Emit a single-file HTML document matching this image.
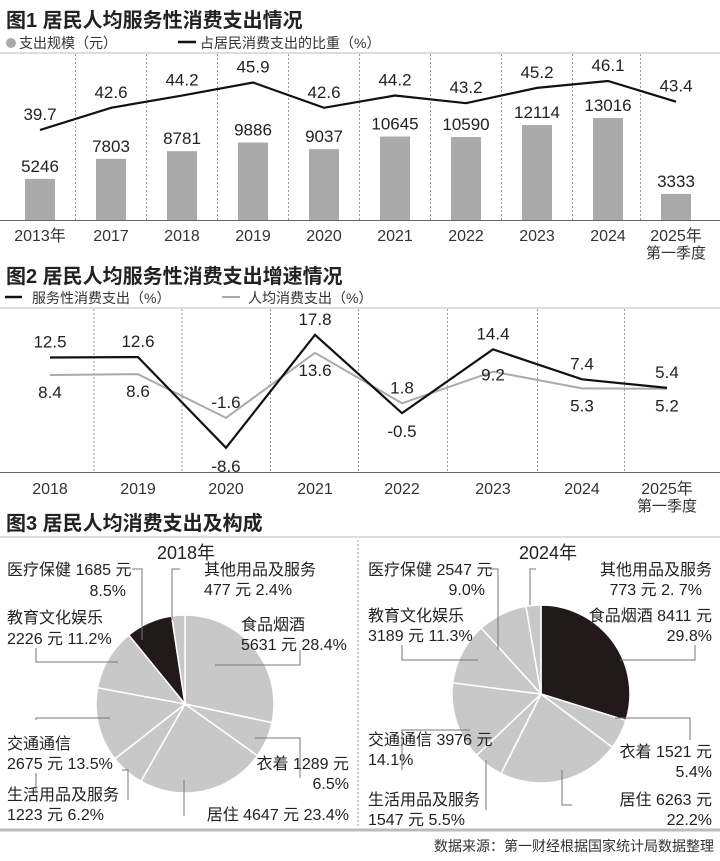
<!DOCTYPE html>
<html><head><meta charset="utf-8"><style>
html,body{margin:0;padding:0;background:#fff;}
svg{display:block;font-family:"Liberation Sans Narrow","Liberation Sans","Noto Sans CJK SC",sans-serif;}
.t{font-family:"Liberation Sans","Noto Sans CJK SC",sans-serif;}
</style></head><body>
<svg id="s" width="720" height="861" viewBox="0 0 720 861">
<g>
<text class="t" x="6" y="27" font-size="20" font-weight="bold" fill="#222">图1 居民人均服务性消费支出情况</text>
<circle cx="11" cy="43" r="5" fill="#aaa"/>
<text class="t" x="19" y="48" font-size="14" fill="#333">支出规模（元）</text>
<line x1="178" y1="42" x2="196" y2="42" stroke="#111" stroke-width="2.5"/>
<text class="t" x="200" y="48" font-size="14" fill="#333">占居民消费支出的比重（%）</text>
<line x1="0" y1="53" x2="720" y2="53" stroke="#bbb"/>
</g>
<g id="c1"></g>
<g>
<text class="t" x="6" y="283" font-size="20" font-weight="bold" fill="#222">图2 居民人均服务性消费支出增速情况</text>
<line x1="5" y1="297" x2="22" y2="297" stroke="#111" stroke-width="2.5"/>
<text class="t" x="32" y="303" font-size="14" fill="#333">服务性消费支出（%）</text>
<line x1="222" y1="297" x2="240" y2="297" stroke="#aaa" stroke-width="2"/>
<text class="t" x="248" y="303" font-size="14" fill="#333">人均消费支出（%）</text>
<line x1="0" y1="308" x2="720" y2="308" stroke="#bbb"/>
</g>
<g id="c2"></g>
<g>
<text class="t" x="6" y="530" font-size="20" font-weight="bold" fill="#222">图3 居民人均消费支出及构成</text>
<line x1="0" y1="537" x2="720" y2="537" stroke="#bbb"/>
<line x1="358" y1="540" x2="358" y2="828" stroke="#999" stroke-dasharray="2,2"/>
<text x="186" y="559" font-size="18" fill="#222" text-anchor="middle">2018年</text>
<text x="548" y="559" font-size="18" fill="#222" text-anchor="middle">2024年</text>
</g>
<g id="c3"></g>
<g>
<line x1="0" y1="830" x2="720" y2="830" stroke="#bbb" stroke-width="3"/>
<text class="t" x="714" y="851" font-size="14" fill="#333" text-anchor="end">数据来源：第一财经根据国家统计局数据整理</text>
</g>
</svg>
<script>
const NS="http://www.w3.org/2000/svg";
const c1Cats=["2013年","2017","2018","2019","2020","2021","2022","2023","2024","2025年"];
const c1Spend=[5246,7803,8781,9886,9037,10645,10590,12114,13016,3333];
const c1Share=[39.7,42.6,44.2,45.9,42.6,44.2,43.2,45.2,46.1,43.4];
const c2Cats=["2018","2019","2020","2021","2022","2023","2024","2025年"];
const c2Service=[12.5,12.6,-8.6,17.8,-0.5,14.4,7.4,5.4];
const c2Total=[8.4,8.6,-1.6,13.6,1.8,9.2,5.3,5.2];
const pie2018Vals=[28.4,6.5,23.4,6.2,13.5,11.2,8.5,2.4];
const pie2024Vals=[29.8,5.4,22.2,5.5,14.1,11.3,9.0,2.7];

function mk(tag,attrs,parent,txt){const e=document.createElementNS(NS,tag);for(const k in attrs)e.setAttribute(k,attrs[k]);if(txt!==undefined)e.textContent=txt;parent.appendChild(e);return e;}

// Chart 1
const g1=document.getElementById('c1');
const x1=i=>40+71*i+(i===9?-3:0);
const yBar=v=>220-v*0.00784;
const yPct=v=>130-(v-39.7)*7.66;
for(let i=1;i<c1Cats.length;i++){
  const l=mk('line',{x1:x1(i)-35.5,y1:54,x2:x1(i)-35.5,y2:220,stroke:'#999','stroke-dasharray':'2,2'},g1);
  
  
}
c1Spend.forEach((v,i)=>{
  const r=mk('rect',{x:x1(i)-15,y:yBar(v),width:30,height:220-yBar(v),fill:'#aaa'},g1);
  
  
  const t=mk('text',{x:x1(i),y:yBar(v)-7,'font-size':17,'text-anchor':'middle',fill:'#222'},g1,String(v));
  
  
  const a=mk('text',{x:x1(i),y:241,'font-size':16,'text-anchor':'middle',fill:'#333'},g1,c1Cats[i]);
  
  
});
const q1=mk('text',{x:x1(9),y:258,'font-size':15,'text-anchor':'middle',fill:'#333'},g1,'第一季度');


const ax1=mk('line',{x1:0,y1:220.5,x2:720,y2:220.5,stroke:'#666'},g1);


const p1=mk('polyline',{points:c1Share.map((v,i)=>x1(i)+','+yPct(v)).join(' '),fill:'none',stroke:'#111','stroke-width':2.2},g1);


c1Share.forEach((v,i)=>{
  const t=mk('text',{x:x1(i),y:yPct(v)-10,'font-size':17,'text-anchor':'middle',fill:'#222'},g1,v.toFixed(1));
  
  
});

// Chart 2
const g2=document.getElementById('c2');
const x2=i=>[50,138,226,315,402,493,582,667][i];
const y2=v=>411-v*4.28;
const sPos=[-1,-1,1,-1,1,-1,-1,-1];
const tPos=[1,1,-1,1,-1,0.3,1,1];
for(let i=1;i<c2Cats.length;i++){
  const l=mk('line',{x1:(x2(i)+x2(i-1))/2,y1:309,x2:(x2(i)+x2(i-1))/2,y2:472,stroke:'#999','stroke-dasharray':'2,2'},g2);
  
  
}
const ax2=mk('line',{x1:0,y1:472.5,x2:720,y2:472.5,stroke:'#666'},g2);


const pt=mk('polyline',{points:c2Total.map((v,i)=>x2(i)+','+y2(v)).join(' '),fill:'none',stroke:'#aaa','stroke-width':2},g2);


const ps=mk('polyline',{points:c2Service.map((v,i)=>x2(i)+','+y2(v)).join(' '),fill:'none',stroke:'#111','stroke-width':2.2},g2);


c2Cats.forEach((c,i)=>{
  const a=mk('text',{x:x2(i),y:494,'font-size':16,'text-anchor':'middle',fill:'#333'},g2,c);
  
  
  const sv=c2Service[i];
  const t=mk('text',{x:x2(i),y:y2(sv)+(sPos[i]<0?-10:24),'font-size':17,'text-anchor':'middle',fill:'#222'},g2,sv.toFixed(1));
  
  
  const tv=c2Total[i];
  const u=mk('text',{x:x2(i),y:y2(tv)+(tPos[i]<0?-10:(tPos[i]<1?9:23)),'font-size':17,'text-anchor':'middle',fill:'#222'},g2,tv.toFixed(1));
  
  
});
const q2=mk('text',{x:x2(7),y:511,'font-size':15,'text-anchor':'middle',fill:'#333'},g2,'第一季度');



// Pies
const g3=document.getElementById('c3');
const sliceNames=['food','clothing','housing','daily','transport','education','medical','other'];
function pie(vals,cx,cy,r,darkIdx,prefix){
  const tot=vals.reduce((a,b)=>a+b,0);let a0=0;
  vals.forEach((v,i)=>{
    const a1=a0+v/tot*2*Math.PI;
    const xs=cx+r*Math.sin(a0),ys=cy-r*Math.cos(a0),xe=cx+r*Math.sin(a1),ye=cy-r*Math.cos(a1);
    const p=mk('path',{d:`M${cx},${cy}L${xs},${ys}A${r},${r} 0 ${a1-a0>Math.PI?1:0} 1 ${xe},${ye}Z`,fill:i===darkIdx?'#221a1a':'#c8c8c8',stroke:'#fff','stroke-width':1.5},g3);
    
    
    a0=a1;
  });
}
pie(pie2018Vals,185,704,89,6,'pie-2018');
pie(pie2024Vals,541,694,89,0,'pie-2024');

const labels=[
 [7,575,'start','医疗保健  1685 元'],[126,596,'end','8.5%'],
 [204,575,'start','其他用品及服务'],[204,595,'start','477 元    2.4%'],
 [7,623,'start','教育文化娱乐'],[7,644,'start','2226 元  11.2%'],
 [241,630,'start','食品烟酒'],[241,650,'start','5631 元  28.4%'],
 [7,749,'start','交通通信'],[7,769,'start','2675 元  13.5%'],
 [349,769,'end','衣着 1289 元'],[349,789,'end','6.5%'],
 [7,800,'start','生活用品及服务'],[7,820,'start','1223 元  6.2%'],
 [349,820,'end','居住  4647 元  23.4%'],
 [368,575,'start','医疗保健  2547 元'],[485,595,'end','9.0%'],
 [712,575,'end','其他用品及服务'],[702,595,'end','773 元  2. 7%'],
 [368,621,'start','教育文化娱乐'],[368,641,'start','3189 元  11.3%'],
 [712,621,'end','食品烟酒 8411 元'],[712,641,'end','29.8%'],
 [368,745,'start','交通通信 3976 元'],[368,765,'start','14.1%'],
 [712,757,'end','衣着 1521 元'],[712,777,'end','5.4%'],
 [368,805,'start','生活用品及服务'],[368,825,'start','1547 元  5.5%'],
 [712,805,'end','居住  6263 元'],[712,825,'end','22.2%']
];
labels.forEach(l=>{
  const t=mk('text',{x:l[0],y:l[1],'font-size':16,'text-anchor':l[2],fill:'#222'},g3,l[3]);
  
  
});
const leaders=[
 '132,569 142,569 142,640','180,569 172,569 172,620','36,648 36,662 118,662','300,650 300,665 215,665',
 '36,773 36,793 36,793','36,720 36,718 110,718','300,778 300,738 255,738','128,800 128,770 122,770',
 '184,816 184,780','490,569 498,569 498,650','536,569 530,569 530,605','402,645 402,660 478,660',
 '695,645 695,660 620,660','402,770 402,730 470,730','690,740 690,718 615,718','486,810 486,760',
 '572,805 562,805 562,770'
];
leaders.forEach(pts=>{
  const l=mk('polyline',{points:pts,fill:'none',stroke:'#777','stroke-width':1},g3);
  
  
});
</script>
</body></html>
